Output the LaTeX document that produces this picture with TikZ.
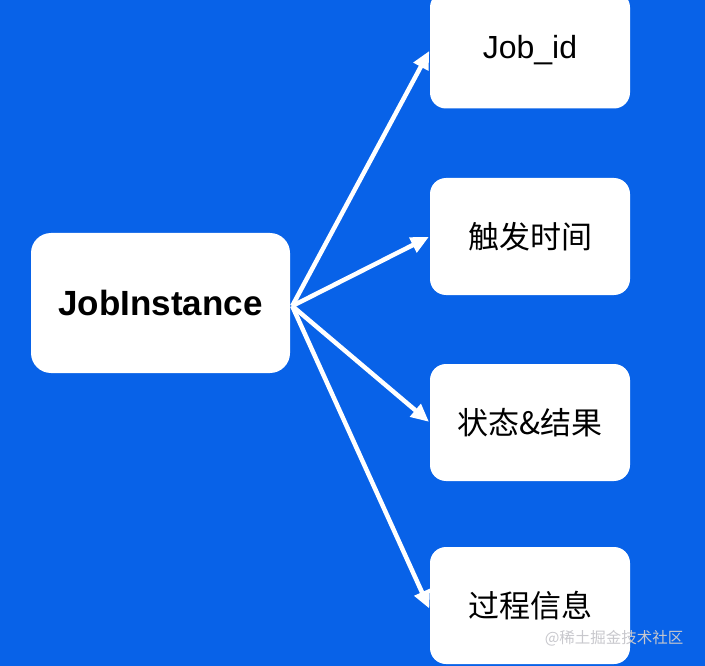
\documentclass[tikz,border=0pt]{standalone}
\usepackage{fontspec}
\setmainfont{Liberation Sans}
\newfontfamily\cjk{Noto Sans CJK SC}
\usetikzlibrary{arrows.meta}
\definecolor{bgblue}{RGB}{8,98,232}
\definecolor{wmgray}{RGB}{200,200,205}
\begin{document}
\begin{tikzpicture}[x=1pt,y=-1pt,
  box/.style={fill=white, rounded corners=16pt, minimum width=200pt, minimum height=117pt, inner sep=0pt, text=black},
  mainbox/.style={fill=white, rounded corners=20pt, minimum width=259pt, minimum height=140pt, inner sep=0pt, text=black, font=\fontsize{35}{40}\selectfont\bfseries},
  rtxt/.style={font=\fontsize{32}{36}\selectfont},
  ctxt/.style={font=\cjk\fontsize{31}{36}\selectfont},
  conn/.style={draw=white, line width=4.5pt, -{Triangle[length=18pt,width=16pt]}, shorten >=1pt}]
\fill[bgblue] (0,0) rectangle (705,666);
\useasboundingbox (0,0) rectangle (705,666);
\node[mainbox] (ji) at (160.5,303) {JobInstance};
\node[box, rtxt] (b1) at (530,50) {Job\_id};
\node[box, ctxt] (b2) at (530,236.5) {触发时间};
\node[box, ctxt] (b3) at (530,422.5) {状态\&结果};
\node[box, ctxt] (b4) at (530,605.5) {过程信息};
\coordinate (o) at ([xshift=2pt,yshift=-3pt]ji.east);
\draw[conn] (o) -- (b1.west);
\draw[conn] (o) -- (b2.west);
\draw[conn] (o) -- (b3.west);
\draw[conn] (o) -- ([yshift=-4pt]b4.west);
\node[font=\cjk\fontsize{15.5}{18}\selectfont, text=wmgray, anchor=east] (wm) at (687,638) {@稀土掘金技术社区};
\end{tikzpicture}
\end{document}
